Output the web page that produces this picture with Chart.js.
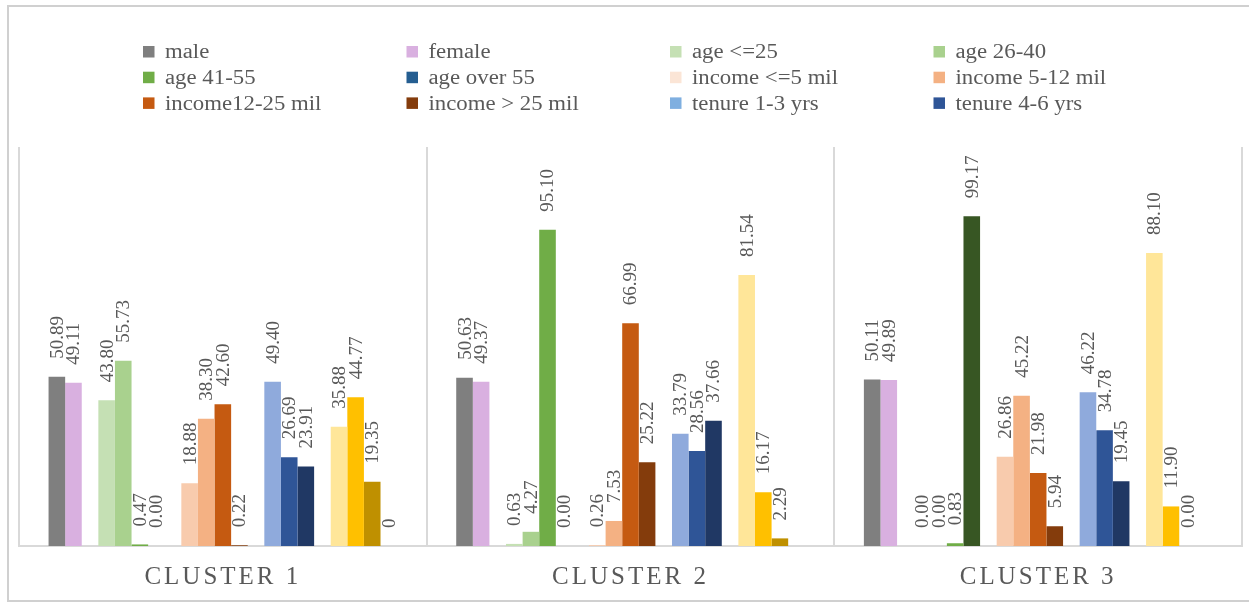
<!DOCTYPE html>
<html>
<head>
<meta charset="utf-8">
<title>Cluster profiles</title>
<script src="https://cdn.jsdelivr.net/npm/chart.js@4.4.1/dist/chart.umd.min.js"></script>
<style>
  html, body { margin: 0; padding: 0; background: #fff; }
  #wrap { position: relative; width: 1249px; height: 604px; overflow: hidden; }
  #frame { position: absolute; left: 7px; top: 5px; width: 1260px; height: 597px; border: 2px solid #D0D0D0; box-sizing: border-box; }
  #chart { position: absolute; left: 0; top: 0; }
</style>
</head>
<body>
<div id="wrap">
  <div id="frame"></div>
  <canvas id="chart" width="1249" height="604"></canvas>
</div>
<script>
// clusters on the x axis
const clusters = ['CLUSTER 1', 'CLUSTER 2', 'CLUSTER 3'];

// share (%) of each profile group per cluster
const male = [50.89, 50.63, 50.11];
const female = [49.11, 49.37, 49.89];
const ageUpTo25 = [43.80, 0.63, 0.00];
const age26to40 = [55.73, 4.27, 0.00];
const age41to55 = [0.47, 95.10, 0.83];
const ageOver55 = [0.00, 0.00, 99.17];
const incomeUpTo5 = [18.88, 0.26, 26.86];
const income5to12 = [38.30, 7.53, 45.22];
const income12to25 = [42.60, 66.99, 21.98];
const incomeOver25 = [0.22, 25.22, 5.94];
const tenure1to3 = [49.40, 33.79, 46.22];
const tenure4to6 = [26.69, 28.56, 34.78];
const tenureOver6 = [23.91, 37.66, 19.45];
const usageA = [35.88, 81.54, 88.10];
const usageB = [44.77, 16.17, 11.90];
const usageC = [19.35, 2.29, 0.00];
const usageD = [0, null, null];

// y axis range
const yMin = 0;
const yMax = 120;

// legend shows the first twelve series, four per row
const legendCols = 4;
const legendCount = 12;

const gap = { label: '', data: [null, null, null], spacer: true };

const series = [
  { label: 'male', data: male, color: '#7F7F7F' },
  { label: 'female', data: female, color: '#D9B0E0' },
  gap,
  { label: 'age <=25', data: ageUpTo25, color: '#C5E0B4' },
  { label: 'age 26-40', data: age26to40, color: '#A9D18E' },
  { label: 'age 41-55', data: age41to55, color: '#70AD47' },
  { label: 'age over 55', data: ageOver55, color: '#375623', legendColor: '#255E91' },
  gap,
  { label: 'income <=5 mil', data: incomeUpTo5, color: '#F8CBAD', legendColor: '#FBE5D6' },
  { label: 'income 5-12 mil', data: income5to12, color: '#F4B183' },
  { label: 'income12-25 mil', data: income12to25, color: '#C55A11' },
  { label: 'income > 25 mil', data: incomeOver25, color: '#843C0C' },
  gap,
  { label: 'tenure 1-3 yrs', data: tenure1to3, color: '#8FAADC', legendColor: '#7FAFE0' },
  { label: 'tenure 4-6 yrs', data: tenure4to6, color: '#2F5597' },
  { label: 'tenure over 6 yrs', data: tenureOver6, color: '#203864' },
  gap,
  { label: 'usage A', data: usageA, color: '#FFE699' },
  { label: 'usage B', data: usageB, color: '#FFC000' },
  { label: 'usage C', data: usageC, color: '#BF9000' },
  { label: 'usage D', data: usageD, color: '#7F6000', decimals: 0 }
];

const datasets = series.map(s => s.spacer
  ? { label: '', data: s.data, spacer: true, backgroundColor: 'transparent' }
  : {
      label: s.label,
      data: s.data,
      backgroundColor: s.color,
      legendColor: s.legendColor || s.color,
      decimals: s.decimals === undefined ? 2 : s.decimals,
      borderWidth: 0
    });

const textGray = '#595959';
const serif = '"Liberation Serif", "Times New Roman", serif';

// rotated value labels above each bar
const valueLabels = {
  id: 'valueLabels',
  afterDatasetsDraw(chart) {
    const ctx = chart.ctx;
    ctx.save();
    ctx.font = '19px ' + serif;
    ctx.fillStyle = textGray;
    ctx.textAlign = 'left';
    ctx.textBaseline = 'middle';
    chart.data.datasets.forEach((ds, di) => {
      if (ds.spacer) return;
      const meta = chart.getDatasetMeta(di);
      meta.data.forEach((bar, i) => {
        const v = ds.data[i];
        if (v === null || v === undefined) return;
        ctx.save();
        ctx.translate(bar.x, bar.y - 18);
        ctx.rotate(-Math.PI / 2);
        ctx.fillText(v.toFixed(ds.decimals), 0, 1);
        ctx.restore();
      });
    });
    ctx.restore();
  }
};

// spaced capital cluster names under the axis
const clusterNames = {
  id: 'clusterNames',
  afterDraw(chart) {
    const ctx = chart.ctx;
    const x = chart.scales.x;
    ctx.save();
    ctx.font = '25px ' + serif;
    ctx.fillStyle = textGray;
    ctx.textAlign = 'center';
    ctx.textBaseline = 'alphabetic';
    if ('letterSpacing' in ctx) ctx.letterSpacing = '3px';
    clusters.forEach((name, i) => {
      ctx.fillText(name, x.getPixelForValue(i), 584);
    });
    ctx.restore();
  }
};

// four-column legend at the top
const gridLegend = {
  id: 'gridLegend',
  afterDraw(chart) {
    const ctx = chart.ctx;
    const items = chart.data.datasets.filter(d => !d.spacer).slice(0, legendCount);
    ctx.save();
    ctx.font = '20px ' + serif;
    ctx.textBaseline = 'middle';
    ctx.textAlign = 'left';
    items.forEach((d, i) => {
      const col = i % legendCols;
      const row = Math.floor(i / legendCols);
      const x = 143 + col * 263.5;
      const y = 52 + row * 25.7;
      ctx.fillStyle = d.legendColor;
      ctx.fillRect(x, y - 6, 11.5, 11.5);
      ctx.fillStyle = textGray;
      ctx.save();
      ctx.translate(x + 22, y + 1);
      ctx.scale(1.14, 1);
      ctx.fillText(d.label, 0, 0);
      ctx.restore();
    });
    ctx.restore();
  }
};

new Chart(document.getElementById('chart'), {
  type: 'bar',
  data: { labels: clusters, datasets },
  options: {
    responsive: false,
    animation: false,
    layout: { padding: { left: 19, right: 7, top: 147, bottom: 58 } },
    datasets: { bar: { categoryPercentage: 0.855, barPercentage: 1 } },
    plugins: {
      legend: { display: false },
      tooltip: { enabled: false }
    },
    scales: {
      x: {
        grid: { offset: true, color: '#D9D9D9', lineWidth: 2, drawTicks: false },
        border: { color: '#D9D9D9', width: 2 },
        ticks: { display: false }
      },
      y: { display: false, min: yMin, max: yMax }
    }
  },
  plugins: [valueLabels, clusterNames, gridLegend]
});
</script>
</body>
</html>
